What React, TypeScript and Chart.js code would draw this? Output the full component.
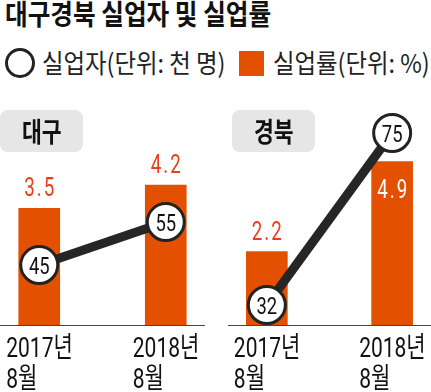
import React, { useEffect, useRef } from "react";
import { Chart, registerables } from "chart.js";

Chart.register(...registerables);

const title = "대구경북 실업자 및 실업률";
const legendUnemployed = "실업자(단위: 천 명)";
const legendRate = "실업률(단위: %)";
const periods = [["2017년", "8월"], ["2018년", "8월"]];
const daeguName = "대구";
const daeguRate = [3.5, 4.2];
const daeguUnemployed = [45, 55];
const gyeongbukName = "경북";
const gyeongbukRate = [2.2, 4.9];
const gyeongbukUnemployed = [32, 75];

const ORANGE = "#E35000";
const LABEL_RED = "#E8401A";
const DARK = "#262626";
const NUM = "Roboto, 'Noto Sans CJK KR', sans-serif";
const KR = "'Noto Sans CJK KR', sans-serif";

function drawText(
  ctx: CanvasRenderingContext2D,
  text: string,
  x: number,
  y: number,
  font: string,
  sx: number,
  align: "left" | "center",
  spacing = 0
) {
  ctx.save();
  ctx.font = font;
  ctx.textAlign = "left";
  ctx.textBaseline = "alphabetic";
  const chars = Array.from(text);
  const widths = chars.map((c) => ctx.measureText(c).width * sx);
  const total = widths.reduce((a, b) => a + b, 0) + spacing * (chars.length - 1);
  let cx = align === "center" ? x - total / 2 : x;
  chars.forEach((c, i) => {
    ctx.save();
    ctx.translate(cx, y);
    ctx.scale(sx, 1);
    ctx.fillText(c, 0, 0);
    ctx.restore();
    cx += widths[i] + spacing;
  });
  ctx.restore();
}

const valueLabels = {
  id: "valueLabels",
  afterDatasetsDraw(chart: any, _args: any, opts: any) {
    const ctx = chart.ctx as CanvasRenderingContext2D;
    chart.data.datasets.forEach((ds: any, di: number) => {
      const meta = chart.getDatasetMeta(di);
      meta.data.forEach((el: any, i: number) => {
        const v = ds.data[i].y;
        if (ds.type === "line") {
          ctx.fillStyle = "#111";
          drawText(ctx, String(v), el.x, el.y + 8.5, `23px ${NUM}`, 0.8, "center");
        } else {
          const inside = opts.inside && opts.inside[i];
          ctx.fillStyle = inside ? "#fff" : LABEL_RED;
          drawText(ctx, v.toFixed(1), el.x, inside ? el.y + 36 : el.y - 12, `25px ${NUM}`, 0.75, "center", 2);
        }
      });
    });
    // category labels under the axis
    const xs = chart.scales.x;
    const bottom = chart.chartArea.bottom;
    ctx.fillStyle = "#111";
    periods.forEach((lines, i) => {
      const px = xs.getPixelForValue(i) - opts.labelShift;
      lines.forEach((t, li) => {
        drawText(ctx, t, px, bottom + 32 + li * 31, `28px ${NUM}`, 0.75, "left");
      });
    });
  },
};

type PanelProps = {
  rate: number[];
  unemployed: number[];
  lineMin: number;
  lineMax: number;
  inside: boolean[];
  width: number;
};

function Panel({ rate, unemployed, lineMin, lineMax, inside, width }: PanelProps) {
  const ref = useRef<HTMLCanvasElement>(null);
  useEffect(() => {
    if (!ref.current) return;
    const chart = new Chart(ref.current, {
      type: "bar",
      data: {
        datasets: [
          {
            type: "line",
            data: unemployed.map((v, i) => ({ x: i, y: v })),
            yAxisID: "y2",
            borderColor: DARK,
            borderWidth: 9,
            pointRadius: 18.5,
            pointHoverRadius: 18.5,
            pointBackgroundColor: "#fff",
            pointBorderColor: "#222",
            pointBorderWidth: 3,
            clip: false,
            order: 0,
          } as any,
          {
            type: "bar",
            data: rate.map((v, i) => ({ x: i, y: v })),
            yAxisID: "y",
            backgroundColor: ORANGE,
            barThickness: 41,
            order: 1,
          } as any,
        ],
      },
      options: {
        animation: false,
        responsive: false,
        maintainAspectRatio: false,
        layout: { autoPadding: false, padding: { left: 0, right: 0, top: 0, bottom: 67 } },
        events: [],
        plugins: {
          legend: { display: false },
          tooltip: { enabled: false },
          valueLabels: { inside, labelShift: 33 },
        } as any,
        scales: {
          x: {
            type: "linear",
            min: -0.31,
            max: 1.31,
            offset: false,
            grid: { display: false, drawTicks: false },
            border: { display: true, color: "#444", width: 1 },
            ticks: { display: false },
          } as any,
          y: { display: false, min: 0, max: 6.75 },
          y2: { display: false, min: lineMin, max: lineMax },
        },
      },
      plugins: [valueLabels],
    });
    return () => chart.destroy();
  }, []);
  return <canvas ref={ref} width={width} height={292} style={{ display: "block", width, height: 292 }} />;
}

const boxStyle: React.CSSProperties = {
  position: "absolute",
  top: 110,
  width: 83,
  height: 42,
  background: "#e6e6e6",
  borderRadius: 8,
  display: "flex",
  alignItems: "center",
  justifyContent: "center",
  zIndex: 2,
};

const boxText: React.CSSProperties = {
  display: "inline-block",
  fontFamily: KR,
  fontWeight: 700,
  fontSize: 27,
  lineHeight: "30px",
  color: "#111",
  transform: "scaleX(0.8)",
  whiteSpace: "nowrap",
};

const legendText: React.CSSProperties = {
  position: "absolute",
  top: 47,
  fontFamily: KR,
  fontSize: 26,
  lineHeight: "30px",
  color: "#222",
  whiteSpace: "nowrap",
  transform: "scaleX(0.9)",
  transformOrigin: "0 0",
};

export default function App() {
  return (
    <div style={{ position: "absolute", left: 0, top: 0, width: 431, height: 392, background: "#fff", overflow: "hidden" }}>
      <div
        style={{
          position: "absolute",
          left: 5,
          top: -4,
          fontFamily: KR,
          fontWeight: 700,
          fontSize: 28,
          lineHeight: "34px",
          color: "#111",
          whiteSpace: "nowrap",
          transform: "scaleX(0.88)",
          transformOrigin: "0 0",
        }}
      >
        {title}
      </div>
      <div style={{ position: "absolute", left: 5, top: 48, width: 30, height: 30, border: "3.5px solid #222", borderRadius: "50%", boxSizing: "border-box" }} />
      <div style={{ ...legendText, left: 42 }}>{legendUnemployed}</div>
      <div style={{ position: "absolute", left: 239, top: 51, width: 25, height: 25, background: ORANGE }} />
      <div style={{ ...legendText, left: 273 }}>{legendRate}</div>
      <div style={{ position: "absolute", left: 0, top: 100, width: 205, height: 292 }}>
        <Panel rate={daeguRate} unemployed={daeguUnemployed} lineMin={31.05} lineMax={83.4} inside={[false, false]} width={205} />
      </div>
      <div style={{ ...boxStyle, left: 0 }}>
        <span style={boxText}>{daeguName}</span>
      </div>
      <div style={{ position: "absolute", left: 228, top: 100, width: 203, height: 292 }}>
        <Panel rate={gyeongbukRate} unemployed={gyeongbukUnemployed} lineMin={27} lineMax={83.25} inside={[false, true]} width={203} />
      </div>
      <div style={{ ...boxStyle, left: 232 }}>
        <span style={boxText}>{gyeongbukName}</span>
      </div>
    </div>
  );
}
